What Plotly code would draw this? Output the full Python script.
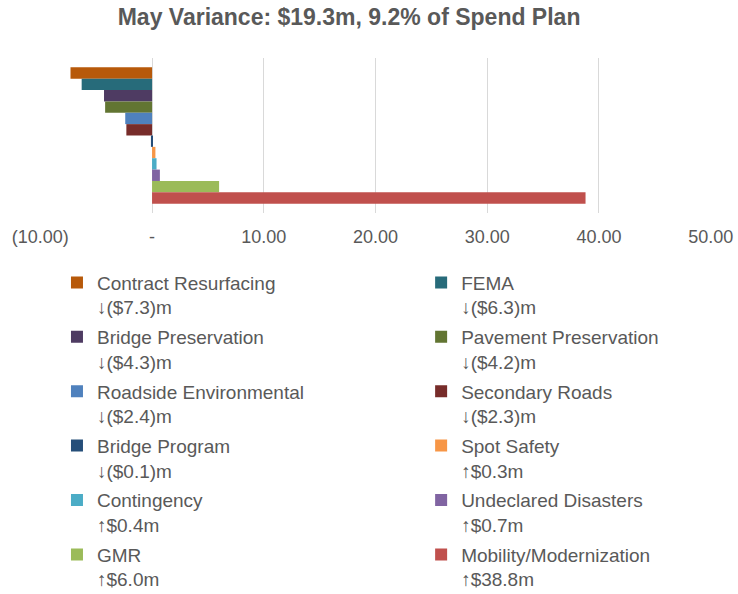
import plotly.graph_objects as go

programs = ["Contract Resurfacing", "FEMA", "Bridge Preservation", "Pavement Preservation",
            "Roadside Environmental", "Secondary Roads", "Bridge Program", "Spot Safety",
            "Contingency", "Undeclared Disasters", "GMR", "Mobility/Modernization"]
variance = [-7.3, -6.3, -4.3, -4.2, -2.4, -2.3, -0.1, 0.3, 0.4, 0.7, 6.0, 38.8]
labels = ["↓($7.3)m", "↓($6.3)m", "↓($4.3)m", "↓($4.2)m", "↓($2.4)m", "↓($2.3)m",
          "↓($0.1)m", "↑$0.3m", "↑$0.4m", "↑$0.7m", "↑$6.0m", "↑$38.8m"]
colors = ["#B7590A", "#276B7A", "#4E3B62", "#627532", "#4F81BD", "#772C2A",
          "#254E79", "#F79646", "#4BACC6", "#8064A2", "#9BBB59", "#C0504D"]
tick_vals = [-10, 0, 10, 20, 30, 40, 50]
tick_text = ["(10.00)", "-", "10.00", "20.00", "30.00", "40.00", "50.00"]

fig = go.Figure()
for i, (name, v, lab, c) in enumerate(zip(programs, variance, labels, colors)):
    fig.add_trace(go.Bar(
        y=["May"], x=[v], orientation="h", name=f"{name}<br>{lab}",
        marker=dict(color=c, line=dict(width=0)),
        legend="legend" if i % 2 == 0 else "legend2",
        legendgroup=f"g{i}",
    ))

gray = "#595959"
leg_common = dict(orientation="v", yanchor="top", y=-0.326, xanchor="left",
                  valign="top", traceorder="grouped", tracegroupgap=2,
                  maxheight=600,
                  font=dict(size=19, color=gray), bgcolor="rgba(0,0,0,0)")
fig.update_layout(
    width=738, height=594,
    barmode="group", bargap=0.12, bargroupgap=0,
    plot_bgcolor="white", paper_bgcolor="white",
    margin=dict(l=40, r=27, t=58, b=381, autoexpand=False),
    font=dict(family="Liberation Sans, Arial, sans-serif", color=gray),
    title=dict(text="<b>May Variance: $19.3m, 9.2% of Spend Plan</b>",
               x=0.473, xanchor="center", y=0.971, yanchor="middle",
               font=dict(size=23, color=gray)),
    xaxis=dict(range=[-10.03, 50.03], tickvals=tick_vals, ticktext=tick_text,
               showgrid=True, gridcolor="#D9D9D9", gridwidth=1, zeroline=False,
               showline=False, ticks="", tickfont=dict(size=18, color=gray),
               ticklabelstandoff=11, automargin=False),
    yaxis=dict(range=[0.5, -0.5], showticklabels=False, showgrid=False,
               zeroline=False, showline=False, automargin=False),
    showlegend=True,
    legend=dict(x=0.0253, **leg_common),
    legend2=dict(x=0.568, **leg_common),
)
fig.write_html("out.html", config={"displayModeBar": False},
               post_script="document.body.style.margin='0px';")
